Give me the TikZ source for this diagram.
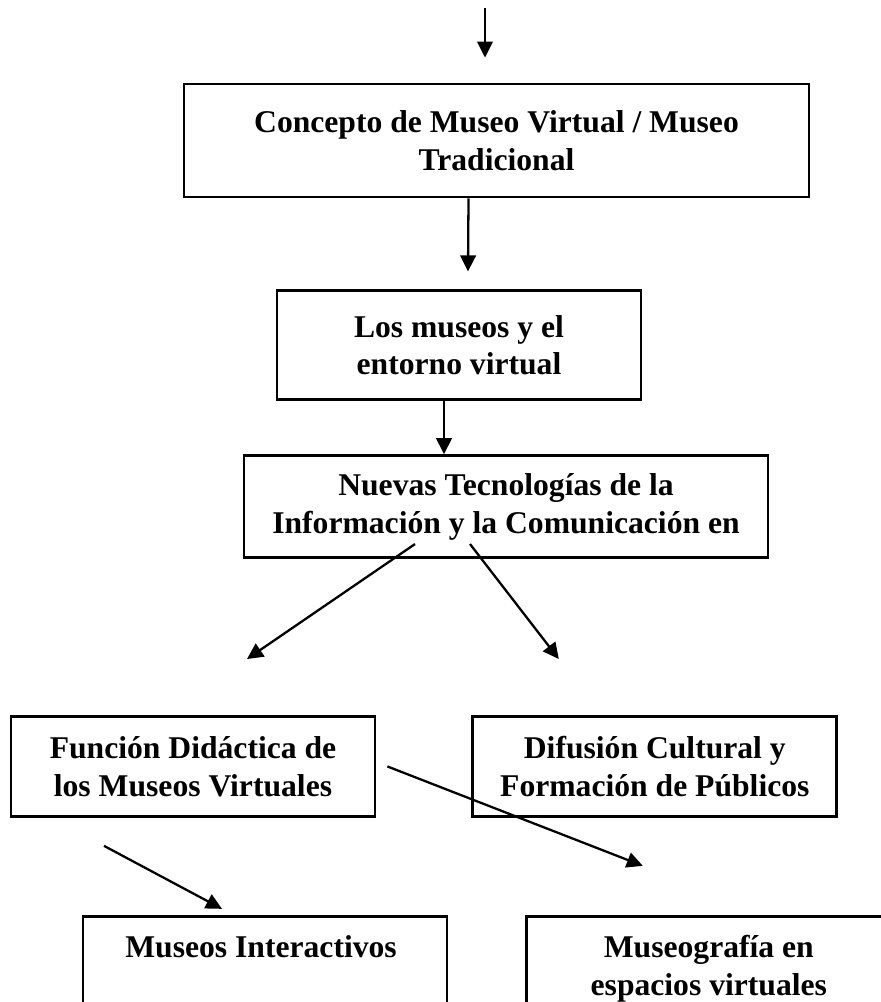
\documentclass[tikz,border=0pt]{standalone}
\usepackage{fontspec}
\setmainfont{Liberation Serif}
\usepackage{tikz}
\usetikzlibrary{arrows.meta,positioning}

\begin{document}
\begin{tikzpicture}[
  node distance=1cm,
  every node/.style={font=\fontsize{18}{21.5}\selectfont\bfseries},
  linkarrow/.style={-{Triangle[length=3.2mm,width=3.1mm]}, line width=1.3pt},
  box/.style={
    draw,
    line width=1.6pt,
    align=center,
    inner sep=4pt
  },
  midbox/.style={box, minimum width=7.28cm, minimum height=2.0cm},
  openbox/.style={box, minimum width=7.28cm, inner ysep=0.38cm, text depth=2.2cm}
]
\useasboundingbox (0,0) rectangle (17.6,-20.04);

\node[box, minimum width=12.5cm, minimum height=2.26cm] (concepto) at (9.93,-2.81) {
  Concepto de Museo Virtual / Museo\\
  Tradicional
};

\node[midbox, minimum height=2.18cm, below=1.82cm of concepto, xshift=-0.75cm] (entorno) {
  Los museos y el\\
  entorno virtual
};

\node[box, minimum width=10.48cm, minimum height=2.04cm, below=1.06cm of entorno, xshift=0.94cm] (tic) {
  Nuevas Tecnologías de la\\
  Información y la Comunicación en
};

\node[midbox, below=3.12cm of tic, xshift=-6.26cm] (funcion) {
  Función Didáctica de\\
  los Museos Virtuales
};

\node[midbox, right=1.9cm of funcion] (difusion) {
  Difusión Cultural y\\
  Formación de Públicos
};

\node[openbox, below=1.94cm of funcion, xshift=1.44cm] (interactivos) {
  Museos Interactivos
};

\node[openbox, below=1.94cm of difusion, xshift=1.08cm] (museografia) {
  Museografía en\\
  espacios virtuales
};

\coordinate (inicio) at (9.7,-0.16);
\coordinate (sobreconcepto) at ([yshift=0.5cm]concepto.north);
\coordinate (haciafuncion) at ([xshift=1.08cm, yshift=1.12cm]funcion.north);
\coordinate (haciadifusion) at ([xshift=-1.92cm, yshift=1.12cm]difusion.north);
\coordinate (haciamuseografia) at ([xshift=-1.32cm, yshift=0.98cm]museografia.north);

\draw[linkarrow] (inicio) -- (inicio |- sobreconcepto);
\draw[linkarrow] ([xshift=-0.56cm]concepto.south) -- ([xshift=0.18cm, yshift=0.36cm]entorno.north);
\draw[linkarrow] ([xshift=-0.3cm]entorno.south) -- ([xshift=-0.3cm]entorno.south |- tic.north);
\draw[linkarrow] ([xshift=-1.82cm, yshift=0.3cm]tic.south) -- (haciafuncion);
\draw[linkarrow] ([xshift=-0.72cm, yshift=0.3cm]tic.south) -- (haciadifusion);
\draw[linkarrow] ([xshift=0.22cm]funcion.east) -- (haciamuseografia);
\draw[linkarrow] ([xshift=-1.78cm, yshift=-0.56cm]funcion.south) -- ([xshift=-0.86cm, yshift=0.12cm]interactivos.north);

\end{tikzpicture}
\end{document}
